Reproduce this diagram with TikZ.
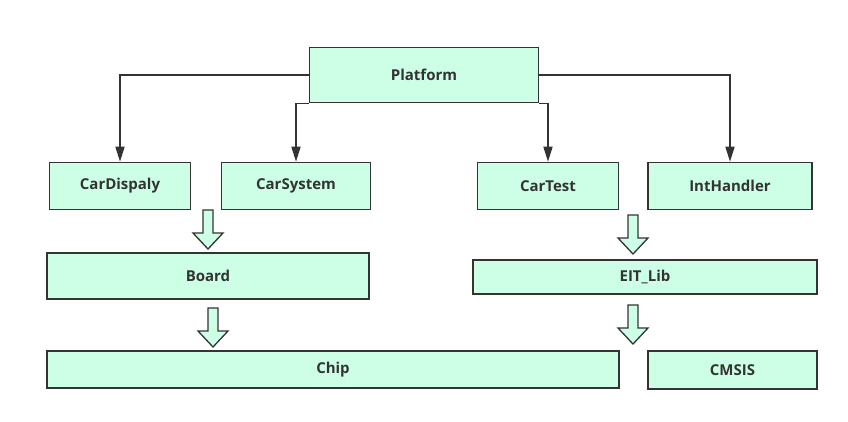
\documentclass[tikz,border=0pt]{standalone}
\usepackage{fontspec}
\setmainfont{Open Sans}
\usetikzlibrary{arrows.meta}
\definecolor{mint}{HTML}{CCFFE6}
\definecolor{ink}{HTML}{333333}
\tikzset{
  box/.style={draw=ink, fill=mint, line width=1.6pt, inner sep=0pt, font=\fontsize{15}{18}\selectfont\bfseries, text=ink},
  conn/.style={draw=ink, line width=1.6pt, -{Triangle[width=9pt,length=15pt]}},
  hollowarrow/.style={draw=ink, fill=mint, line width=1.3pt, line join=miter},
  dnarrow/.pic={\path[hollowarrow] (-5,0) -- (-5,23) -- (-15,23) -- (0,39) -- (15,23) -- (5,23) -- (5,0) -- cycle;}
}
\begin{document}
\begin{tikzpicture}[x=1pt,y=-1pt]
\useasboundingbox[fill=white] (0,0) rectangle (848,421);
\node[box, minimum width=229, minimum height=55] (Platform) at (424,75) {Platform};
\node[box, minimum width=141, minimum height=47] (CarDispaly) at (120,186) {CarDispaly};
\node[box, minimum width=149, minimum height=47] (CarSystem) at (296,186) {CarSystem};
\node[box, minimum width=141, minimum height=47] (CarTest) at (548,186) {CarTest};
\node[box, minimum width=164, minimum height=47] (IntHandler) at (730,186) {IntHandler};
\node[box, minimum width=322, minimum height=46] (Board) at (208,276) {Board};
\node[box, minimum width=344, minimum height=34] (EITLib) at (645,277) {EIT\_Lib};
\node[box, minimum width=572, minimum height=37] (Chip) at (333,369.5) {Chip};
\node[box, minimum width=169, minimum height=38] (CMSIS) at (732.5,370) {CMSIS};

\draw[conn] (Platform.west) -| (CarDispaly.north);
\draw[conn] (Platform.east) -| (IntHandler.north);
\draw[conn] (Platform.south west) -| (CarSystem.north);
\draw[conn] (Platform.south east) -| (CarTest.north);

\pic at (208,210) {dnarrow};
\pic at (213,308) {dnarrow};
\pic at (633,215) {dnarrow};
\pic at (633,305) {dnarrow};
\end{tikzpicture}
\end{document}
